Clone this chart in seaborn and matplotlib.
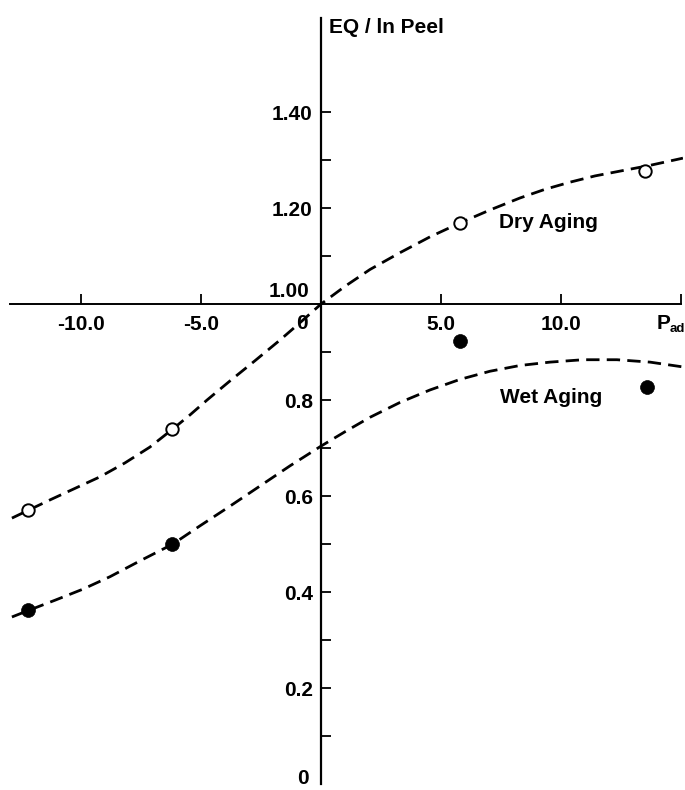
import matplotlib
matplotlib.use("Agg")
import matplotlib.pyplot as plt
from matplotlib.transforms import offset_copy
import pandas as pd
import seaborn as sns

# measured points
dry_x = [-12.2, -6.2, 5.8, 13.5]
dry_y = [0.571, 0.740, 1.169, 1.278]
wet_x = [-12.2, -6.2, 5.8, 13.6]
wet_y = [0.362, 0.500, 0.923, 0.827]

# fitted (dashed) curves
dry_curve_x = [-12.88, -12.17, -11.29, -10.25, -9.21, -8.17, -7.13, -6.17, -5.46, -4.75,
               -3.79, -2.75, -1.71, -0.88, 0.0, 1.0, 2.04, 3.29, 4.54, 5.79, 7.04,
               8.29, 9.33, 10.38, 11.42, 12.46, 13.71, 15.08]
dry_curve_y = [0.554, 0.571, 0.592, 0.616, 0.640, 0.669, 0.702, 0.740, 0.769, 0.800,
               0.840, 0.882, 0.925, 0.961, 1.000, 1.037, 1.072, 1.107, 1.140, 1.169, 1.196,
               1.221, 1.239, 1.254, 1.267, 1.277, 1.289, 1.304]
wet_curve_x = [-12.88, -12.17, -11.08, -9.92, -8.79, -7.54, -6.17, -5.04, -3.79, -2.54,
               -1.29, 0.0, 1.0, 2.04, 3.29, 4.54, 5.79, 7.04, 8.29, 9.54, 10.92, 12.33,
               13.71, 15.08]
wet_curve_y = [0.348, 0.362, 0.383, 0.406, 0.432, 0.465, 0.500, 0.538, 0.579, 0.621,
               0.663, 0.704, 0.734, 0.764, 0.795, 0.821, 0.843, 0.860, 0.872, 0.879, 0.884,
               0.884, 0.879, 0.869]

xtick_values = [-10, -5, 5, 10, 15]
xtick_labels = ["-10.0", "-5.0", "5.0", "10.0", ""]
ytick_major = [0.2, 0.4, 0.6, 0.8, 1.2, 1.4]
ytick_major_labels = ["0.2", "0.4", "0.6", "0.8", "1.20", "1.40"]
ytick_minor = [0.1, 0.3, 0.5, 0.7, 0.9, 1.1, 1.3]

sns.set_style("white")
plt.rcParams["font.family"] = ["Liberation Sans", "DejaVu Sans"]
plt.rcParams["font.weight"] = "bold"
plt.rcParams["text.color"] = "black"
plt.rcParams["xtick.color"] = "black"
plt.rcParams["ytick.color"] = "black"
plt.rcParams["lines.solid_capstyle"] = "butt"
FS = 15

fig = plt.figure(figsize=(6.85, 7.9), dpi=100)
ax = fig.add_axes([10 / 685, 6 / 790, 673.4 / 685, 766 / 790])
ax.set_xlim(-12.96, 15.1)
ax.set_ylim(0, 1.596)

curves = pd.concat([
    pd.DataFrame({"x": dry_curve_x, "y": dry_curve_y, "s": "dry"}),
    pd.DataFrame({"x": wet_curve_x, "y": wet_curve_y, "s": "wet"}),
])
sns.lineplot(data=curves, x="x", y="y", units="s", estimator=None, sort=False,
             color="black", lw=2.0, linestyle=(0, (4.8, 2.6)),
             ax=ax, legend=False, zorder=2)

sns.scatterplot(x=dry_x, y=dry_y, ax=ax, marker="o", s=80, facecolor="white",
                edgecolor="black", linewidth=1.4, zorder=3)
sns.scatterplot(x=wet_x, y=wet_y, ax=ax, marker="o", s=100, color="black",
                edgecolor="black", linewidth=0.5, zorder=3)

# axes through (0, 1.0)
for s in ["top", "right"]:
    ax.spines[s].set_visible(False)
ax.spines["left"].set_position(("data", 0))
ax.spines["bottom"].set_position(("data", 1.0))
ax.spines["left"].set_linewidth(1.6)
ax.spines["bottom"].set_linewidth(1.4)
ax.spines["bottom"].set_bounds(-12.96, 15.0)
ax.spines["left"].set_color("black")
ax.spines["bottom"].set_color("black")

ax.set_xticks(xtick_values)
ax.set_xticklabels(xtick_labels)
ax.set_yticks(ytick_major)
ax.set_yticklabels(ytick_major_labels)
ax.set_yticks(ytick_minor, minor=True)
ax.xaxis.set_ticks_position("bottom")
ax.yaxis.set_ticks_position("left")
ax.tick_params(axis="x", direction="in", length=7.5, width=1.3, pad=8,
               labelsize=FS, colors="black")
ax.tick_params(axis="y", which="both", direction="in", length=7.5, width=1.3,
               pad=6, labelsize=FS, colors="black")
ax.set_xlabel("")
ax.set_ylabel("")
ax.grid(False)

# special labels
ax.text(0, 1.0, "1.00", transform=offset_copy(ax.transData, fig, x=-12, y=3, units="dots"),
        ha="right", va="bottom", fontsize=FS, fontweight="bold")
ax.text(0, 1.0, "0", transform=offset_copy(ax.transData, fig, x=-19, y=-10, units="dots"),
        ha="center", va="top", fontsize=FS, fontweight="bold")
ax.text(0, 0, "0", transform=offset_copy(ax.transData, fig, x=-18, y=5, units="dots"),
        ha="center", va="center", fontsize=FS, fontweight="bold")
ax.text(15, 1.0, "P", transform=offset_copy(ax.transData, fig, x=-24, y=-10, units="dots"),
        ha="left", va="top", fontsize=FS, fontweight="bold")
ax.text(15, 1.0, "ad", transform=offset_copy(ax.transData, fig, x=-11, y=-19, units="dots"),
        ha="left", va="top", fontsize=9.5, fontweight="bold")
ax.text(0, 1.596, "EQ / ln Peel", transform=offset_copy(ax.transData, fig, x=8, y=0, units="dots"),
        ha="left", va="top", fontsize=FS, fontweight="bold")
ax.text(7.4, 1.169, "Dry Aging", ha="left", va="center", fontsize=FS, fontweight="bold")
ax.text(7.45, 0.806, "Wet Aging", ha="left", va="center", fontsize=FS, fontweight="bold")

fig.savefig("out.png", dpi=100)
